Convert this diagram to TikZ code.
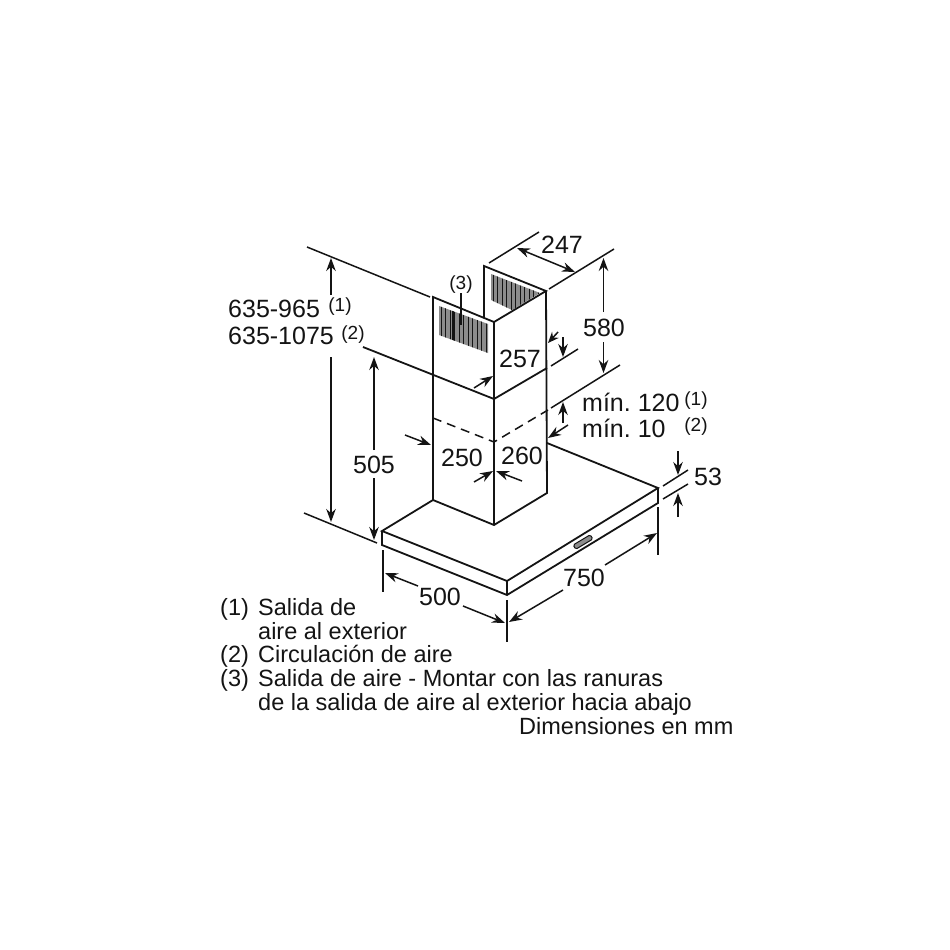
\documentclass[tikz,border=0pt]{standalone}
\usepackage{fontspec}
\setmainfont{Liberation Sans}
\usetikzlibrary{arrows.meta}
\frenchspacing
\definecolor{ink}{gray}{0.08}
\definecolor{grillgray}{gray}{0.55}
\tikzset{
  x=1pt,y=-1pt,
  body/.style={draw=ink,line width=1.8pt,line join=miter},
  thin line/.style={draw=ink,line width=1.5pt},
  dim/.style={draw=ink,line width=1.5pt,-{Stealth[length=13pt,width=9.5pt]}},
  hid/.style={draw=ink,line width=1.5pt,dash pattern=on 9pt off 6pt},
  big/.style={font=\fontsize{25}{25}\selectfont,inner sep=0pt,anchor=base,text=ink},
  note/.style={font=\fontsize{19}{19}\selectfont,inner sep=0pt,anchor=base,text=ink},
  legend/.style={font=\fontsize{23.5}{23.5}\selectfont,inner sep=0pt,anchor=base west,text=ink},
  grillbar/.style={draw=ink,line width=0.7pt},
}
\begin{document}
\begin{tikzpicture}
\useasboundingbox[fill=white] (0,0) rectangle (950,950);
% --- chimney corners
\coordinate (ctl) at (433,297); \coordinate (ctc) at (494,322); \coordinate (ctr) at (546,291);
\coordinate (ctb) at (484,266); \coordinate (ctbb) at (484,318);
\coordinate (cbl) at (433,500); \coordinate (cbc) at (494,525); \coordinate (cbr) at (547,493);
\coordinate (jl) at (363,347); \coordinate (jc) at (494,399); \coordinate (jr) at (547,368);
\coordinate (dl) at (433,418); \coordinate (dc) at (494,442); \coordinate (dr) at (548,410);
% --- hood corners
\coordinate (hl) at (382,531); \coordinate (hlb) at (382,545);
\coordinate (hf) at (507,581); \coordinate (hfb) at (507,595);
\coordinate (hr) at (658,488); \coordinate (hrb) at (658,503);
\coordinate (hbk) at (547,443);
% --- grilles
\begin{scope}
  \clip (439,306) -- (488,324) -- (488,353) -- (439,335) -- cycle;
  \fill[grillgray] (435,300) rectangle (492,358);
  \foreach \gx in {441,445.5,...,488} \draw[grillbar] (\gx,300) -- (\gx,358);
  \draw[draw=ink,line width=1.5pt] (453,300) -- (453,358);
\end{scope}
\begin{scope}
  \clip (491,274) -- (540,293) -- (512,310) -- (491,300) -- cycle;
  \fill[grillgray] (488,270) rectangle (544,314);
  \foreach \gx in {493,497.5,...,540} \draw[grillbar] (\gx,270) -- (\gx,314);
\end{scope}
% --- chimney
\draw[body] (ctbb) -- (ctb) -- (ctr) -- (ctc) -- (ctl) -- (cbl) -- (cbc) -- (cbr) -- (ctr);
\draw[body] (ctc) -- (cbc);
\draw[body] (jl) -- (jc) -- (jr);
\draw[hid] (dl) -- (dc) -- (dr);
% --- hood
\draw[body] (cbl) -- (hl) -- (hf) -- (hr) -- (hbk);
\draw[body] (hl) -- (hlb) -- (hfb) -- (hrb) -- (hr);
\draw[body] (hf) -- (hfb);
\draw[draw=ink,fill=grillgray,line width=1pt,rounded corners=1.5pt,rotate around={31:(583,542)}] (573,539.5) rectangle (593,544.5);
% --- extension lines
\coordinate (e1a) at (307,247); \coordinate (e1b) at (430,297);
\draw[thin line] (e1a) -- (e1b);
\coordinate (e2a) at (304,513); \coordinate (e2b) at (377,543);
\draw[thin line] (e2a) -- (e2b);
\coordinate (e3a) at (489,263); \coordinate (e3b) at (539,232);
\draw[thin line] (e3a) -- (e3b);
\coordinate (e4a) at (549,289); \coordinate (e4b) at (614,249);
\draw[thin line] (e4a) -- (e4b);
\coordinate (e5a) at (551,408); \coordinate (e5b) at (620,365);
\draw[thin line] (e5a) -- (e5b);
\coordinate (e6a) at (551,366); \coordinate (e6b) at (578,349);
\draw[thin line] (e6a) -- (e6b);
\coordinate (e7a) at (663,486); \coordinate (e7b) at (688,470);
\draw[thin line] (e7a) -- (e7b);
\coordinate (e8a) at (663,499); \coordinate (e8b) at (688,484);
\draw[thin line] (e8a) -- (e8b);
\coordinate (e9a) at (658,507); \coordinate (e9b) at (658,555);
\draw[thin line] (e9a) -- (e9b);
\coordinate (e10a) at (507,600); \coordinate (e10b) at (507,642);
\draw[thin line] (e10a) -- (e10b);
\coordinate (e11a) at (383,550); \coordinate (e11b) at (383,592);
\draw[thin line] (e11a) -- (e11b);
% --- labels
\node[big] (n247) at (562,253) {247};
\node[big] (n580) at (604,336) {580};
\node[big] (n257) at (520,367) {257};
\node[big] (n505) at (374,473) {505};
\node[big] (n250) at (462,466) {250};
\node[big] (n260) at (522,464) {260};
\node[big] (n53) at (708,485) {53};
\node[big] (n750) at (584,586) {750};
\node[big] (n500) at (440,605) {500};
\node[big,anchor=base west] (nh1) at (228,317) {635-965};
\node[big,anchor=base west] (nh2) at (228,344) {635-1075};
\node[note] (nh1s) at (340,311) {(1)};
\node[note] (nh2s) at (353,339) {(2)};
\node[note] (n3) at (461,289) {(3)};
\node[big,anchor=base west] (nm1) at (582,411) {mín. 120};
\node[big,anchor=base west] (nm2) at (582,437) {mín. 10};
\node[note] (nm1s) at (696,405) {(1)};
\node[note] (nm2s) at (696,431) {(2)};
\node[legend] (l1a) at (220,615) {(1)};
\node[legend] (l1b) at (258,615) {Salida de};
\node[legend] (l1c) at (258,639) {aire al exterior};
\node[legend] (l2a) at (220,662) {(2)};
\node[legend] (l2b) at (258,662) {Circulación de aire};
\node[legend] (l3a) at (220,686) {(3)};
\node[legend] (l3b) at (258,686) {Salida de aire - Montar con las ranuras};
\node[legend] (l3c) at (258,710) {de la salida de aire al exterior hacia abajo};
\node[legend] (l4) at (519,734) {Dimensiones en mm};
% --- leader of (3)
\coordinate (lead) at (461,325); \coordinate (leadt) at (461,293);
\draw[thin line] (leadt) -- (lead);
% --- dimension arrows
\coordinate (a1a) at (331,295); \coordinate (a1b) at (331,258);
\draw[dim] (a1a) -- (a1b);
\coordinate (a2a) at (331,357); \coordinate (a2b) at (331,522);
\draw[dim] (a2a) -- (a2b);
\coordinate (a3a) at (374,450); \coordinate (a3b) at (374,357);
\draw[dim] (a3a) -- (a3b);
\coordinate (a4a) at (374,478); \coordinate (a4b) at (374,540);
\draw[dim] (a4a) -- (a4b);
\coordinate (a5a) at (603.5,312); \coordinate (a5b) at (603.5,258);
\draw[dim] (a5a) -- (a5b);
\coordinate (a6a) at (603.5,342); \coordinate (a6b) at (603.5,373);
\draw[dim] (a6a) -- (a6b);
\coordinate (a7a) at (517,248); \coordinate (a7b) at (575,272);
\draw[dim,{Stealth[length=13pt,width=9.5pt]}-{Stealth[length=13pt,width=9.5pt]}] (a7a) -- (a7b);
\coordinate (a8a) at (558,332); \coordinate (a8b) at (548,343);
\draw[thin line,-{Stealth[length=11pt,width=9pt]}] (a8a) -- (a8b);
\coordinate (a9a) at (563,337); \coordinate (a9b) at (563,357);
\draw[dim] (a9a) -- (a9b);
\coordinate (a10a) at (474,388); \coordinate (a10b) at (493,376);
\draw[dim] (a10a) -- (a10b);
\coordinate (a11a) at (563,423); \coordinate (a11b) at (563,402);
\draw[dim] (a11a) -- (a11b);
\coordinate (a12a) at (568,425); \coordinate (a12b) at (548,438);
\draw[dim] (a12a) -- (a12b);
\coordinate (a13a) at (405,435); \coordinate (a13b) at (431,445);
\draw[dim] (a13a) -- (a13b);
\coordinate (a14a) at (474,482); \coordinate (a14b) at (493,471);
\draw[dim] (a14a) -- (a14b);
\coordinate (a15a) at (522,481); \coordinate (a15b) at (496,471);
\draw[dim] (a15a) -- (a15b);
\coordinate (a16a) at (678,451); \coordinate (a16b) at (678,475);
\draw[dim] (a16a) -- (a16b);
\coordinate (a17a) at (678,517); \coordinate (a17b) at (678,493);
\draw[dim] (a17a) -- (a17b);
\coordinate (a18a) at (605,565); \coordinate (a18b) at (657,533);
\draw[dim] (a18a) -- (a18b);
\coordinate (a19a) at (563,590); \coordinate (a19b) at (509,622);
\draw[dim] (a19a) -- (a19b);
\coordinate (a20a) at (418,586); \coordinate (a20b) at (385,573);
\draw[dim] (a20a) -- (a20b);
\coordinate (a21a) at (463,606); \coordinate (a21b) at (505,623);
\draw[dim] (a21a) -- (a21b);
\end{tikzpicture}
\end{document}
